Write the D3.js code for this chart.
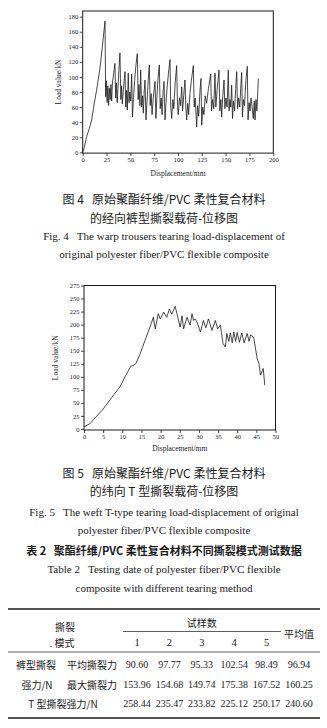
<!DOCTYPE html>
<html><head><meta charset="utf-8">
<script src="https://cdn.jsdelivr.net/npm/d3@7"></script>
<style>
html,body{margin:0;padding:0;background:#fff;}
svg{display:block;}
text{white-space:pre;}
</style></head><body>
<svg id="c" width="327" height="728"></svg>
<script>
// ---------- Fig.4 warp trousers tearing ----------
const warpDisp = [0,1.5,4,7,9.4,11.2,14.5,18.2,21,23.4,24.1,24.8,25.6,26.4,27.2,28,28.8,29.6,30.4,31.2,32.5,33.8,34.6,35.4,36.2,37,38,39.1,40,40.8,41.6,42.5,43.5,44.4,45.2,46,46.8,47.8,48.6,49.5,50.4,51.4,52.2,53.2,54.5,55.8,57.3,58.2,59,60,60.8,61.8,62.8,63.6,64.5,65.4,66.4,67.5,68.7,69.9,70.8,71.8,72.8,74,75.9,76.8,77.8,79,80.4,81.3,82.3,83.3,84.3,85.3,86.4,87.4,88.6,90,91.6,92.4,93.4,94.6,95.6,97,98.6,99.5,100.3,101.5,102.7,103.9,104.8,106,107.3,108.2,109.1,110.2,111.2,112.5,114,116.1,117,118,119,119.6,120.6,121.7,123,124.1,124.9,126,127.2,128.5,130,132,134.3,135.2,136.3,137.5,138.8,139.7,141,143,143.9,145,145.8,147,148.3,149.2,150.3,151.5,152.8,153.6,154.5,155.4,156.3,157.2,158.2,159.4,160.5,161.6,162.5,163.6,164.8,165.8,166.8,167.6,168.6,169.8,171.2,172.7,173.5,174.6,175.6,176.6,177.8,179,180,180.8,181.8,182.8,184.3];
const warpLoad = [0,6,20,32,43,58,82,112,145,174,74,95,66,88,62,85,70,90,68,92,105,118,72,92,66,85,110,132,70,88,64,80,95,107,60,82,56,105,66,80,68,104,47,70,95,115,131,70,90,62,109,60,75,52,80,96,43,68,95,116,62,78,50,72,94,45,72,98,116,58,72,50,80,94,43,66,86,105,123,60,45,70,58,92,115,62,50,72,62,87,55,75,96,60,43,65,50,78,95,115,60,72,48,34,62,48,80,98,36,60,50,75,65,85,104,55,70,58,105,60,82,109,55,70,47,75,96,58,72,60,109,55,70,60,89,45,68,55,85,107,58,72,60,85,106,47,70,62,95,114,43,66,55,72,60,45,68,43,70,55,98];
const warpXTicks = [0,25,50,75,100,125,150,175,200];
const warpYTicks = [0,20,40,60,80,100,120,140,160,180];

// ---------- Fig.5 weft T-type tearing ----------
const weftDisp = [0,1.5,3,5,7,9.4,11,12.2,13,13.6,14.7,16.2,17.7,18.1,18.6,19.4,19.9,20.8,21.6,22.3,22.9,23.8,24.3,25.1,25.6,26,26.9,27.7,28.2,28.6,29,29.5,30.4,31.2,31.8,32.5,33.4,34.3,34.9,35.6,36.3,36.9,37.3,37.8,38.2,38.7,39.1,39.6,40,40.6,41.2,41.8,42.6,43.1,43.5,44.3,45.2,45.7,46.1,46.8,47.2];
const weftLoad = [4,10,22,38,58,81,104,120,122,126,145,175,205,214,192,221,211,224,214,230,220,235,220,195,217,192,214,199,221,208,211,205,186,208,194,211,189,208,192,199,164,157,183,168,184,165,186,168,185,166,184,165,183,168,180,176,135,125,103,116,84];
const weftXTicks = [0,5,10,15,20,25,30,35,40,45,50];
const weftYTicks = [0,25,50,75,100,125,150,175,200,225,250,275];

// ---------- Table 2 ----------
const sampleCols = ["1","2","3","4","5"];
const avgTear = [90.60,97.77,95.33,102.54,98.49,96.94];
const maxTear = [153.96,154.68,149.74,175.38,167.52,160.25];
const tTear   = [258.44,235.47,233.82,225.12,250.17,240.60];

const svg = d3.select("#c");
const serif = "'Liberation Serif','Times New Roman',serif";
const cjk = "'Noto Sans CJK SC','Liberation Serif',serif";
const ink = "#1a1a1a";

function drawChart(o){
  const x = d3.scaleLinear().domain(o.xd).range(o.xr);
  const y = d3.scaleLinear().domain(o.yd).range(o.yr);
  const g = svg.append("g");
  g.append("rect").attr("x",o.xr[0]).attr("y",o.yr[1])
    .attr("width",o.xr[1]-o.xr[0]).attr("height",o.yr[0]-o.yr[1])
    .attr("fill","none").attr("stroke",ink).attr("stroke-width",1);
  const ax = g.append("g").attr("transform",`translate(0,${o.yr[0]})`)
    .call(d3.axisBottom(x).tickValues(o.xt).tickSize(3).tickSizeOuter(0).tickPadding(1.5));
  const ay = g.append("g").attr("transform",`translate(${o.xr[0]},0)`)
    .call(d3.axisLeft(y).tickValues(o.yt).tickSize(3).tickSizeOuter(0).tickPadding(1.5));
  [ax,ay].forEach(a=>{
    a.select(".domain").remove();
    a.selectAll("line").attr("stroke",ink).attr("stroke-width",0.8);
    a.selectAll("text").attr("font-family",serif).attr("font-size",o.tf).attr("fill",ink);
  });
  const line = d3.line().x((d,i)=>x(o.xs[i])).y((d,i)=>y(o.ys[i]));
  g.append("path").datum(o.ys).attr("d",line).attr("fill","none")
    .attr("stroke",ink).attr("stroke-width",0.8).attr("stroke-linejoin","round");
  g.append("text").attr("x",(o.xr[0]+o.xr[1])/2).attr("y",o.xly)
    .attr("text-anchor","middle").attr("dominant-baseline","central")
    .attr("font-family",serif).attr("font-size",o.lf).attr("fill",ink).text("Displacement/mm");
  g.append("text").attr("transform",`translate(${o.ylx},${(o.yr[0]+o.yr[1])/2}) rotate(-90)`)
    .attr("text-anchor","middle").attr("dominant-baseline","central")
    .attr("font-family",serif).attr("font-size",o.lf).attr("fill",ink).text("Load value/kN");
}

drawChart({xd:[0,200],xr:[82.7,273.3],yd:[-1,187.5],yr:[153.1,11],
  xt:warpXTicks,yt:warpYTicks,xs:warpDisp,ys:warpLoad,tf:6.5,lf:7.5,xly:173,ylx:58});
drawChart({xd:[0,50],xr:[84,275.5],yd:[-2,275],yr:[430,285.5],
  xt:weftXTicks,yt:weftYTicks,xs:weftDisp,ys:weftLoad,tf:6.5,lf:7.5,xly:448,ylx:55});

function cap(txt,y,size,font,weight){
  svg.append("text").attr("x",164).attr("y",y).attr("text-anchor","middle")
    .attr("dominant-baseline","central").attr("font-family",font)
    .attr("font-size",size).attr("font-weight",weight||400).attr("fill",ink).text(txt);
}
cap("图 4   原始聚酯纤维/PVC 柔性复合材料",198,12,cjk);
cap("的经向裤型撕裂载荷-位移图",217,12,cjk);
cap("Fig. 4   The warp trousers tearing load-displacement of",236,11,serif);
cap("original polyester fiber/PVC flexible composite",254,11,serif);
cap("图 5   原始聚酯纤维/PVC 柔性复合材料",472,12,cjk);
cap("的纬向 T 型撕裂载荷-位移图",490,12,cjk);
cap("Fig. 5   The weft T-type tearing load-displacement of original",512,11,serif);
cap("polyester fiber/PVC flexible composite",530,11,serif);
cap("表 2   聚酯纤维/PVC 柔性复合材料不同撕裂模式测试数据",550,11,cjk,700);
cap("Table 2   Testing date of polyester fiber/PVC flexible",569,11,serif);
cap("composite with different tearing method",588,11,serif);

// table
const colX = d3.scalePoint().domain([...sampleCols,"avg"]).range([137,299]);
function hline(y,x1,x2,w){
  svg.append("line").attr("x1",x1).attr("x2",x2).attr("y1",y).attr("y2",y)
    .attr("stroke",ink).attr("stroke-width",w);
}
hline(609,8,320,1.6);
hline(631.5,123,281,0.7);
hline(652,8,320,0.7);
hline(718,8,320,1.6);
function tt(txt,x,y,font,size){
  svg.append("text").attr("x",x).attr("y",y).attr("text-anchor","middle")
    .attr("dominant-baseline","central").attr("font-family",font)
    .attr("font-size",size).attr("fill",ink).text(txt);
}
tt("撕裂",65,626,cjk,10);
tt(". 模式",62,642,cjk,10);
tt("试样数",(colX("1")+colX("5"))/2,622,cjk,10);
tt("平均值",colX("avg"),633,cjk,10);
sampleCols.forEach(c=>tt(c,colX(c),642,serif,10.5));
tt("裤型撕裂",36,664,cjk,10);
tt("平均撕裂力",92,664,cjk,10);
tt("强力/N",37,684,cjk,10);
tt("最大撕裂力",92,684,cjk,10);
tt("T 型撕裂强力/N",63,703,cjk,10);
const keys=[...sampleCols,"avg"];
const fmt=d3.format(".2f");
[[avgTear,664],[maxTear,684],[tTear,703]].forEach(([arr,y])=>{
  arr.forEach((v,i)=>tt(fmt(v),colX(keys[i]),y,serif,10));
});
</script>
</body></html>
